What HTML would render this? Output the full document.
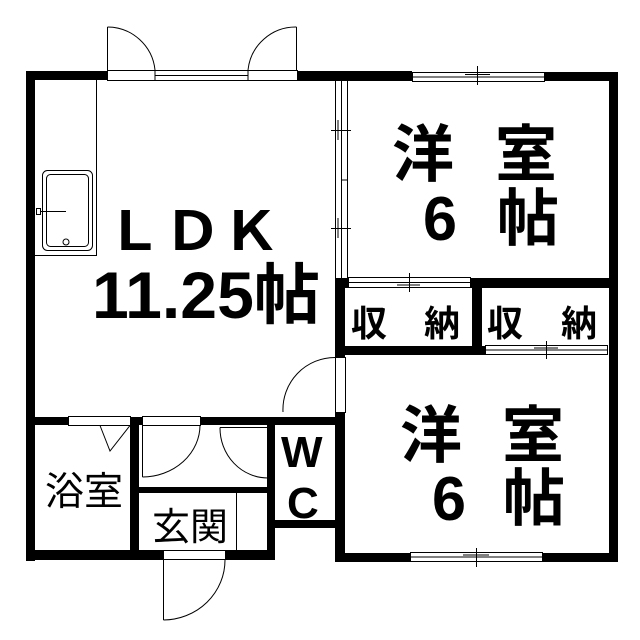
<!DOCTYPE html>
<html><head><meta charset="utf-8"><style>
html,body{margin:0;padding:0;background:#fff;}
svg{display:block;}
text{font-family:"Liberation Sans","Noto Sans CJK JP",sans-serif;fill:#000;}
</style></head><body>
<svg width="640" height="640" viewBox="0 0 640 640" xmlns="http://www.w3.org/2000/svg">
<g fill="#000">
<rect x="26" y="71" width="82" height="9"/>
<rect x="297" y="71" width="115" height="10"/>
<rect x="544" y="72" width="74" height="9"/>
<rect x="26" y="71" width="9" height="490"/>
<rect x="609" y="72" width="9" height="490"/>
<rect x="26" y="550" width="137" height="10"/>
<rect x="225" y="550" width="50" height="10"/>
<rect x="335" y="553" width="75" height="9"/>
<rect x="542" y="553" width="76" height="9"/>
<rect x="335" y="278" width="10" height="79"/>
<rect x="335" y="413" width="10" height="149"/>
<rect x="335" y="278" width="13" height="10"/>
<rect x="470" y="278" width="140" height="10"/>
<rect x="472" y="278" width="10" height="77"/>
<rect x="335" y="346" width="150" height="9"/>
<rect x="26" y="417" width="42" height="8"/>
<rect x="130" y="417" width="12" height="8"/>
<rect x="200" y="417" width="145" height="8"/>
<rect x="130" y="417" width="9" height="143"/>
<rect x="136" y="487" width="139" height="6"/>
<rect x="267" y="425" width="8" height="135"/>
<rect x="267" y="520" width="78" height="8"/>
</g>
<g fill="none" stroke="#000" stroke-width="1">
<rect x="107.5" y="70.5" width="190" height="10"/>
<line x1="155" y1="70.5" x2="155" y2="80.5"/>
<line x1="248" y1="70.5" x2="248" y2="80.5"/>
<line x1="155" y1="75.5" x2="248" y2="75.5"/>
<line x1="107.5" y1="70" x2="107.5" y2="27"/>
<path d="M107.5 27 A48 48 0 0 1 155 70"/>
<line x1="296.5" y1="70" x2="296.5" y2="27"/>
<path d="M296.5 27 A48 48 0 0 0 248 70"/>
<path d="M96.5 80 V255.5 H35"/>
<rect x="42.5" y="170.5" width="50" height="80" rx="5"/>
<rect x="46.5" y="174.5" width="42" height="72" rx="4"/>
<line x1="40" y1="211.5" x2="66" y2="211.5"/>
<rect x="36.5" y="208.5" width="4" height="6"/>
<circle cx="66" cy="242" r="3"/>
<rect x="335.5" y="80.5" width="12" height="198"/>
<line x1="341.5" y1="80" x2="341.5" y2="278"/>
<line x1="341.5" y1="180" x2="347.5" y2="180"/>
<line x1="331" y1="130.5" x2="351" y2="130.5"/>
<line x1="338" y1="120" x2="338" y2="140"/>
<line x1="331" y1="228.5" x2="351" y2="228.5"/>
<line x1="338" y1="218" x2="338" y2="238"/>
<rect x="412.5" y="72.5" width="132" height="9"/>
<line x1="412" y1="77" x2="544" y2="77"/>
<line x1="477.5" y1="66" x2="477.5" y2="85"/>
<line x1="465" y1="74.5" x2="490" y2="74.5"/>
<rect x="348.5" y="277.5" width="122" height="10"/>
<line x1="348" y1="282.5" x2="470" y2="282.5"/>
<line x1="409.5" y1="273" x2="409.5" y2="292"/>
<line x1="397" y1="285" x2="420" y2="285"/>
<rect x="485.5" y="345.5" width="122" height="9"/>
<line x1="485" y1="350" x2="607" y2="350"/>
<line x1="546.5" y1="341" x2="546.5" y2="359"/>
<line x1="534" y1="348" x2="558" y2="348"/>
<rect x="410.5" y="552.5" width="132" height="9"/>
<line x1="410" y1="557" x2="542" y2="557"/>
<line x1="476.5" y1="548" x2="476.5" y2="567"/>
<line x1="463" y1="555" x2="489" y2="555"/>
<rect x="335.5" y="357.5" width="10" height="55"/>
<path d="M335 357.5 A52 52 0 0 0 283 412"/>
<rect x="68.5" y="416.5" width="62" height="9"/>
<path d="M100 425.5 L110 451 L130 425.5"/>
<rect x="142.5" y="416.5" width="58" height="9"/>
<line x1="142.5" y1="425" x2="142.5" y2="477"/>
<path d="M200 425 A58 52 0 0 1 142.5 477"/>
<rect x="268.5" y="427.5" width="6" height="51"/>
<path d="M220 427.5 A48 50 0 0 0 268 478"/>
<line x1="220" y1="427.5" x2="268" y2="427.5"/>
<line x1="236.5" y1="493" x2="236.5" y2="550"/>
<rect x="163.5" y="550.5" width="62" height="9"/>
<line x1="163.5" y1="560" x2="163.5" y2="620"/>
<path d="M225 560 A62 60 0 0 1 163.5 620"/>
</g>
<text x="105" y="250" font-size="54" font-weight="bold" textLength="175" lengthAdjust="spacingAndGlyphs">ＬＤＫ</text>
<text x="92" y="318" font-size="66" font-weight="bold" textLength="228" lengthAdjust="spacingAndGlyphs">11.25帖</text>
<text x="392" y="176" font-size="62" font-weight="bold">洋</text>
<text x="495" y="176" font-size="62" font-weight="bold">室</text>
<text x="423" y="240" font-size="62" font-weight="bold" textLength="34" lengthAdjust="spacingAndGlyphs">6</text>
<text x="497" y="240" font-size="62" font-weight="bold">帖</text>
<text x="400" y="457" font-size="62" font-weight="bold">洋</text>
<text x="502" y="457" font-size="62" font-weight="bold">室</text>
<text x="432" y="520" font-size="62" font-weight="bold" textLength="34" lengthAdjust="spacingAndGlyphs">6</text>
<text x="503" y="520" font-size="62" font-weight="bold">帖</text>
<text x="351" y="336" font-size="36" font-weight="bold">収</text>
<text x="424" y="336" font-size="36" font-weight="bold">納</text>
<text x="487" y="336" font-size="36" font-weight="bold">収</text>
<text x="561" y="336" font-size="36" font-weight="bold">納</text>
<text x="45" y="505" font-size="39">浴室</text>
<text x="152" y="540" font-size="38">玄関</text>
<text x="281" y="467" font-size="44" font-weight="bold">W</text>
<text x="287" y="518" font-size="44" font-weight="bold">C</text>
</svg>
</body></html>
